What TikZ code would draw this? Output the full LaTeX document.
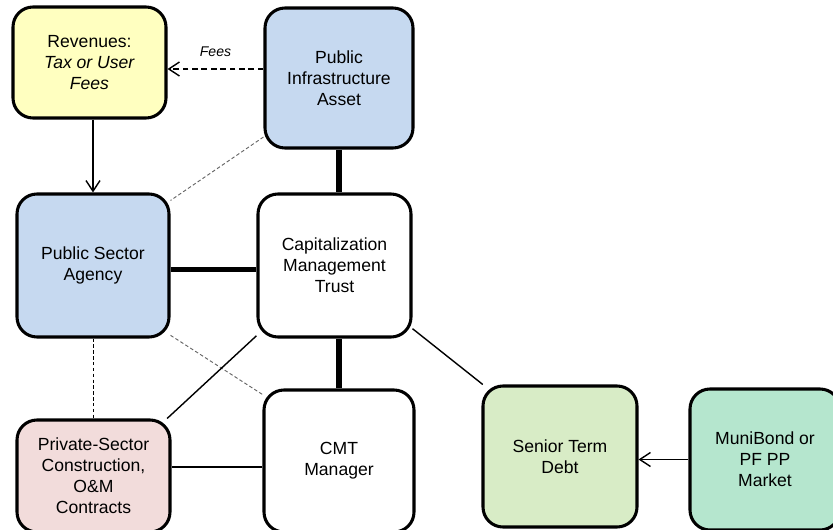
\documentclass[tikz,border=0pt]{standalone}
\usepackage{fontspec}
\setmainfont{Liberation Sans}
\RequirePackage{xcolor}
\definecolor{revyellow}{RGB}{255,255,192}
\definecolor{pubblue}{RGB}{198,217,240}
\definecolor{privpink}{RGB}{242,220,219}
\definecolor{debtgreen}{RGB}{216,236,198}
\definecolor{marketgreen}{RGB}{181,230,206}
\usetikzlibrary{calc}
\usetikzlibrary{positioning,backgrounds,arrows.meta}
\tikzset{
  box/.style={draw, line width=2.6pt, rounded corners=0.6cm, align=center,
    inner sep=2pt, font=\fontsize{15}{18}\selectfont},
  strong/.style={line width=4.3pt},
  link/.style={line width=1.2pt},
  faint/.style={gray!80!black, line width=0.8pt, dash pattern=on 3pt off 2pt},
  >={Straight Barb[length=3.2mm,width=4.2mm]}
}

\begin{document}
\begin{tikzpicture}[x=0.03cm, y=-0.03cm]
  \useasboundingbox (0,0) rectangle (833,530);

  \node [box, fill=revyellow, minimum width=4.59cm, minimum height=3.33cm] (rev) at (89.5,62.5) {Revenues:\\\textit{Tax or User}\\\textit{Fees}};
  \node [box, fill=pubblue, minimum width=4.44cm, minimum height=4.2cm] (pia) at (339,78) {Public\\Infrastructure\\Asset};
  \node [box, fill=pubblue, minimum width=4.56cm, minimum height=4.29cm] (psa) at (93,265.5) {Public Sector\\Agency};
  \node [box, fill=white, minimum width=4.59cm, minimum height=4.29cm] (cmt) at (334.5,265.5) {Capitalization\\Management\\Trust};
  \node [box, fill=privpink, minimum width=4.59cm, minimum height=3.36cm] (priv) at (93.5,476) {Private-Sector\\Construction,\\O\&M\\Contracts};
  \node [box, fill=white, minimum width=4.5cm, minimum height=4.26cm] (mgr) at (339,461) {CMT\\Manager};
  \node [box, fill=debtgreen, minimum width=4.62cm, minimum height=4.23cm] (std) at (560,456.5) {Senior Term\\Debt};
  \node [box, fill=marketgreen, minimum width=4.5cm, minimum height=4.23cm] (muni) at (765,459.5) {MuniBond or\\PF PP\\Market};

  \begin{scope}[on background layer]
    % trust links:
    \draw [strong] (pia.south) -- (pia.south |- cmt.north);
    \draw [strong] ([yshift=-0.12cm]psa.east) -- ([yshift=-0.12cm]cmt.west);
    \draw [strong] (mgr.north) -- (mgr.north |- cmt.south);

    % revenues:
    \draw [link, ->] (rev.south -| psa.north) -- (psa.north);
    \draw [link, ->, dash pattern=on 5pt off 3pt] ([yshift=0.27cm]pia.west) -- ([yshift=0.27cm]pia.west -| rev.east)
      node [midway, above=0.22cm, font=\fontsize{12}{14}\selectfont] {\textit{Fees}};

    % dotted:
    \draw [faint] (pia.218) -- (psa.40);
    \draw [faint] (psa.-42) -- (mgr.139);
    \draw [line width=0.7pt, dash pattern=on 3pt off 2pt] (psa.south) -- (psa.south |- priv.north);

    % contracts and debt:
    \draw [link] (cmt.222) -- (priv.38);
    \draw [link] ([yshift=-0.18cm]mgr.west) -- ([yshift=-0.18cm]mgr.west -| priv.east);
    \draw [link] (cmt.-39) -- (std.137);
    \draw [link, ->] (muni.west) -- (muni.west -| std.east);
  \end{scope}

\end{tikzpicture}
\end{document}
